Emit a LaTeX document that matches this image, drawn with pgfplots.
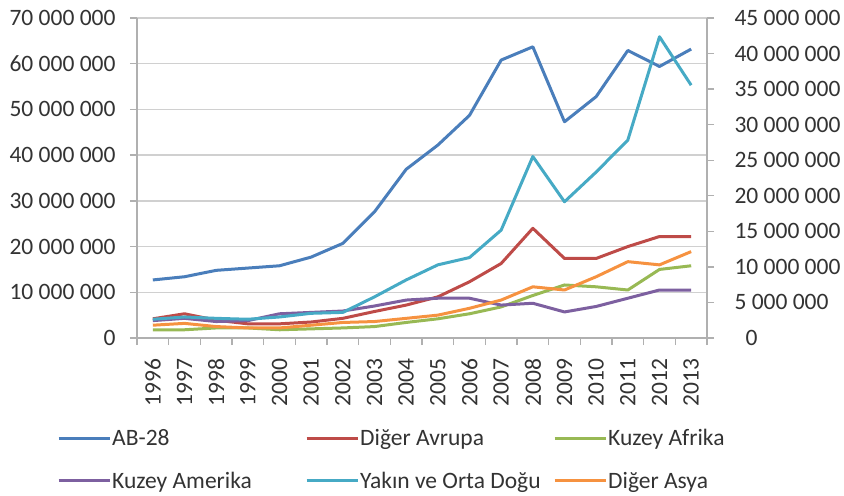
\documentclass[border=0pt]{standalone}
\usepackage{fontspec}
\setmainfont{Carlito}
\usepackage{pgfplots}
\pgfplotsset{compat=1.18}
\definecolor{cBlue}{HTML}{4A7EBB}
\definecolor{cRed}{HTML}{BE4B48}
\definecolor{cGreen}{HTML}{98B954}
\definecolor{cPurple}{HTML}{7D60A0}
\definecolor{cAqua}{HTML}{46AAC5}
\definecolor{cOrange}{HTML}{F69240}
\definecolor{cGrid}{HTML}{D0D0D0}
\definecolor{cAxis}{HTML}{B0B0B0}
\definecolor{cText}{HTML}{333333}
\newcommand{\lf}{\fontsize{23.5bp}{27bp}\selectfont}
\begin{document}
\begin{tikzpicture}
\useasboundingbox (-137bp,-158bp) rectangle (707bp,338bp);
\begin{axis}[
  scale only axis, width=570bp, height=320bp,
  anchor=south west, at={(0,0)},
  xmin=-0.5, xmax=17.5, ymin=0, ymax=70,
  axis lines*=left,
  axis line style={cAxis, line width=1.3bp},
  ytick={0,10,...,70},
  yticklabels={0,10 000 000,20 000 000,30 000 000,40 000 000,50 000 000,60 000 000,70 000 000},
  ymajorgrids, grid style={cGrid, line width=1.3bp},
  xtick={0,...,17},
  xticklabels={1996,1997,1998,1999,2000,2001,2002,2003,2004,2005,2006,2007,2008,2009,2010,2011,2012,2013},
  major x tick style={draw=none},
  minor xtick={-0.5,0.5,...,17.5},
  tick align=outside, major tick length=7bp, minor tick length=7bp,
  tick style={cAxis, line width=1.3bp},
  xticklabel shift=10bp, yticklabel shift=11bp,
  xticklabel style={rotate=90, anchor=east, text=cText, font=\lf},
  yticklabel style={text=cText, font=\lf},
  clip=false,
  legend columns=3,
  legend style={at={(rel axis cs:0,0)}, anchor=north west, xshift=-80bp, yshift=-90bp,
    draw=none, fill=none, row sep=23bp, column sep=0bp, inner sep=0bp,
    nodes={inner sep=1bp, text=cText, font=\lf}},
  legend image code/.code={\draw[#1, line width=3bp] (0bp,0bp) -- (51bp,0bp);},
  every axis plot/.append style={line width=3bp, line join=round, mark=none},
]
\addplot[cBlue] coordinates {(0,12.7)(1,13.4)(2,14.8)(3,15.3)(4,15.8)(5,17.7)(6,20.7)(7,27.6)(8,36.9)(9,42.2)(10,48.7)(11,60.8)(12,63.7)(13,47.3)(14,52.8)(15,62.9)(16,59.4)(17,63.2)};
\addlegendentry{\makebox[192bp][l]{AB-28}}
\addplot[cRed] coordinates {(0,4.2)(1,5.3)(2,3.9)(3,3.1)(4,3.1)(5,3.5)(6,4.3)(7,5.8)(8,7.2)(9,9.0)(10,12.3)(11,16.3)(12,24.0)(13,17.4)(14,17.4)(15,20.0)(16,22.2)(17,22.2)};
\addlegendentry{\makebox[192bp][l]{Diğer Avrupa}}
\addplot[cGreen] coordinates {(0,1.8)(1,1.8)(2,2.2)(3,2.2)(4,1.8)(5,2.0)(6,2.2)(7,2.5)(8,3.4)(9,4.2)(10,5.3)(11,6.8)(12,9.3)(13,11.6)(14,11.2)(15,10.5)(16,15.0)(17,15.8)};
\addlegendentry{\makebox[192bp][l]{Kuzey Afrika}}
\addplot[cPurple] coordinates {(0,3.8)(1,4.3)(2,3.6)(3,3.8)(4,5.3)(5,5.6)(6,5.9)(7,7.0)(8,8.3)(9,8.7)(10,8.7)(11,7.2)(12,7.6)(13,5.7)(14,6.9)(15,8.7)(16,10.5)(17,10.5)};
\addlegendentry{\makebox[192bp][l]{Kuzey Amerika}}
\addplot[cAqua] coordinates {(0,4.1)(1,4.6)(2,4.3)(3,4.1)(4,4.6)(5,5.4)(6,5.6)(7,9.0)(8,12.7)(9,16.0)(10,17.6)(11,23.6)(12,39.7)(13,29.8)(14,36.3)(15,43.3)(16,65.9)(17,55.3)};
\addlegendentry{\makebox[192bp][l]{Yakın ve Orta Doğu}}
\addplot[cOrange] coordinates {(0,2.8)(1,3.2)(2,2.5)(3,2.2)(4,2.2)(5,2.8)(6,3.4)(7,3.6)(8,4.3)(9,5.0)(10,6.5)(11,8.3)(12,11.2)(13,10.5)(14,13.4)(15,16.7)(16,16.0)(17,18.9)};
\addlegendentry{\makebox[192bp][l]{Diğer Asya}}
\end{axis}
\begin{axis}[
  scale only axis, width=570bp, height=320bp,
  anchor=south west, at={(0,0)},
  xmin=-0.5, xmax=17.5, ymin=0, ymax=45,
  axis x line=none, axis y line*=right,
  axis line style={cAxis, line width=1.3bp},
  ytick={0,5,...,45},
  yticklabels={\hspace*{11bp}0,5 000 000,10 000 000,15 000 000,20 000 000,25 000 000,30 000 000,35 000 000,40 000 000,45 000 000},
  tick align=outside, major tick length=7bp,
  tick style={cAxis, line width=1.3bp},
  yticklabel shift=17bp,
  yticklabel style={text=cText, anchor=west, font=\lf},
]
\end{axis}
\end{tikzpicture}
\end{document}
